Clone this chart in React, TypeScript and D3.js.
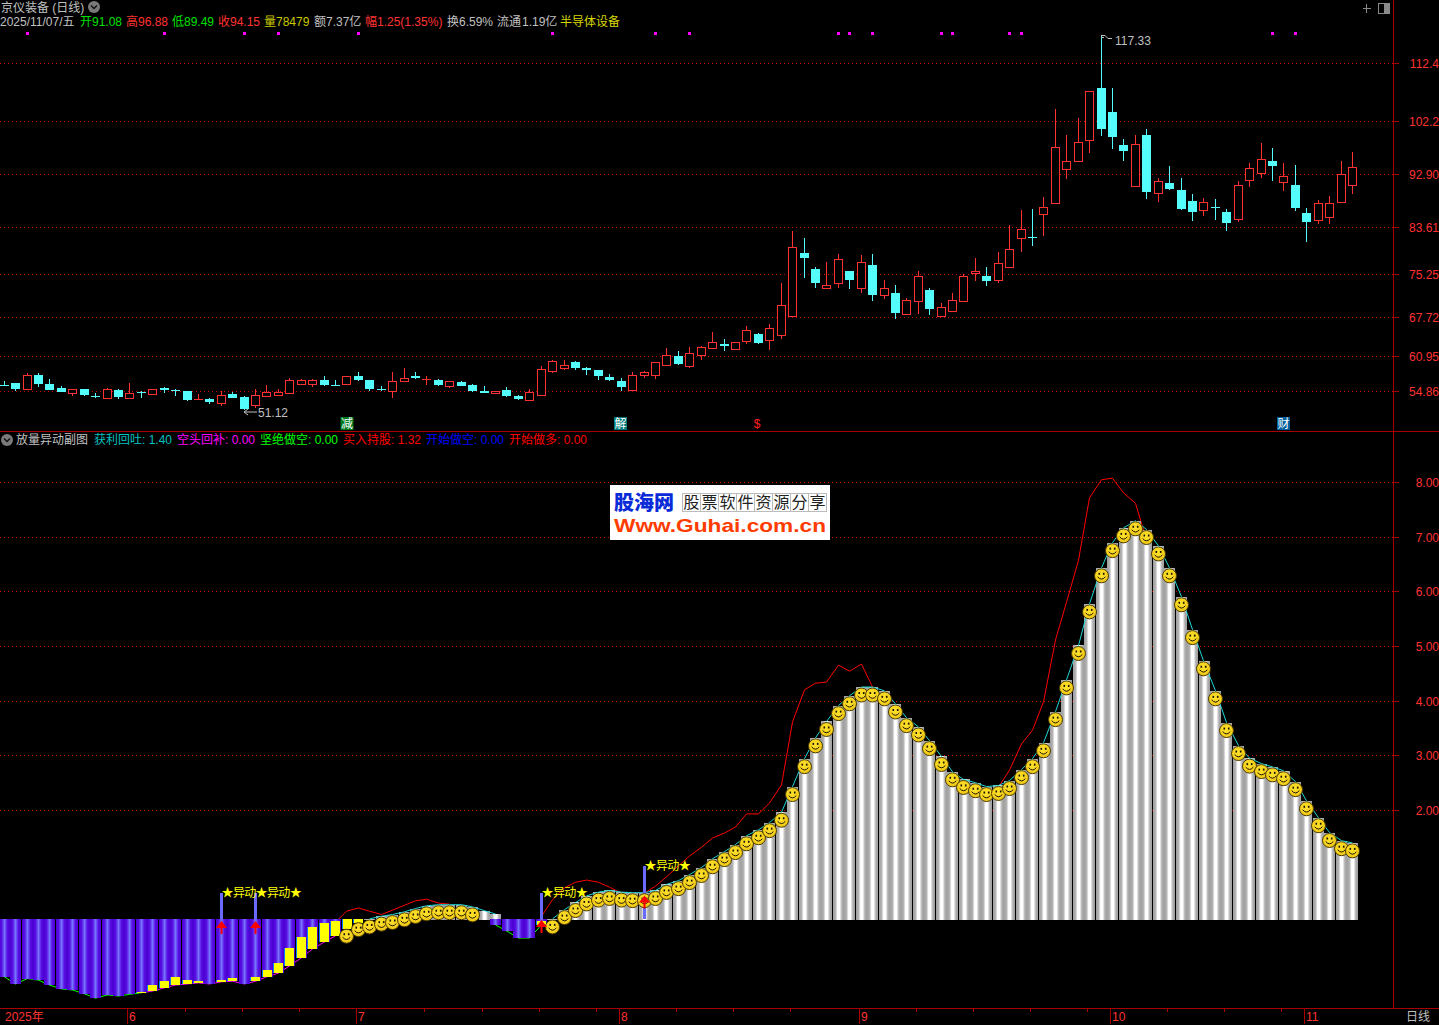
import { useEffect, useRef } from 'react'
import * as d3 from 'd3'

// --- DATA ---
const opens = [
  55.91, 56.26, 55.26, 57.67, 56.09, 55.38, 54.51, 55.21, 53.98, 53.63,
  55.03, 53.63, 54.68, 54.33, 55.38, 55.09, 54.86, 53.33, 53.45, 52.75,
  54.33, 53.8, 52.4, 53.98, 54.15, 54.51, 56.09, 56.09, 56.79, 56.0,
  56.09, 57.49, 56.79, 55.21, 54.86, 56.62, 57.49, 56.88, 56.79, 55.74,
  56.44, 55.91, 54.86, 54.56, 55.03, 53.98, 53.28, 54.15, 58.37, 58.9,
  59.96, 58.9, 58.55, 57.32, 56.62, 55.03, 57.67, 57.67, 59.43, 61.01,
  59.25, 61.19, 62.42, 63.12, 62.24, 63.65, 64.88, 63.82, 64.7, 68.04,
  79.11, 76.3, 72.96, 73.84, 75.95, 72.96, 77.0, 71.73, 72.08, 68.39,
  70.67, 72.61, 68.04, 68.92, 70.67, 75.6, 75.07, 74.36, 76.65, 81.74,
  81.92, 85.96, 87.89, 93.87, 95.27, 98.96, 108.1, 103.88, 98.08, 90.88,
  99.84, 89.65, 91.41, 90.18, 88.24, 86.66, 87.19, 86.31, 85.08, 91.93,
  93.16, 95.27, 91.58, 91.06, 86.14, 84.91, 85.43, 88.07, 91.08,
]
const highs = [
  56.62, 56.26, 57.97, 58.02, 56.97, 55.74, 55.21, 55.21, 54.51, 55.38,
  55.21, 56.26, 54.86, 55.21, 55.56, 55.21, 54.86, 54.33, 53.63, 54.86,
  54.68, 53.98, 55.21, 55.91, 55.21, 57.14, 56.97, 56.97, 57.49, 56.79,
  57.49, 58.2, 56.79, 55.74, 58.2, 58.9, 58.2, 57.49, 56.97, 56.62,
  56.62, 56.09, 55.74, 54.86, 55.56, 54.15, 55.21, 59.25, 60.31, 60.31,
  60.13, 59.08, 58.55, 57.85, 57.14, 58.2, 58.37, 59.96, 62.42, 61.89,
  62.59, 62.77, 65.23, 64.0, 63.47, 66.28, 65.05, 66.63, 73.84, 82.97,
  81.74, 76.65, 77.53, 78.93, 75.95, 78.76, 78.93, 74.36, 73.49, 71.2,
  75.95, 72.96, 70.32, 72.08, 75.42, 78.23, 76.65, 79.28, 84.03, 86.66,
  86.84, 88.95, 104.41, 99.84, 102.82, 107.57, 117.33, 108.1, 99.14, 99.84,
  100.89, 92.29, 94.39, 92.29, 89.47, 88.77, 88.6, 86.84, 91.76, 94.92,
  98.43, 97.56, 94.92, 94.57, 87.01, 88.42, 89.12, 95.27, 96.88,
]
const lows = [
  55.74, 54.9, 55.21, 55.56, 55.03, 54.68, 54.03, 53.98, 53.63, 53.45,
  53.45, 53.63, 53.63, 54.15, 54.51, 53.98, 53.1, 53.28, 52.57, 52.22,
  53.63, 51.5, 51.87, 53.8, 54.15, 54.51, 56.09, 55.56, 55.74, 55.74,
  56.09, 56.62, 54.86, 54.86, 53.63, 56.44, 56.97, 55.91, 55.74, 55.38,
  55.74, 54.68, 54.56, 54.33, 53.8, 53.28, 53.28, 54.15, 58.02, 58.55,
  58.55, 57.67, 56.79, 56.62, 54.86, 55.03, 57.14, 56.97, 59.43, 59.43,
  58.9, 60.31, 62.42, 61.89, 62.24, 63.12, 63.12, 62.07, 64.0, 68.04,
  74.72, 72.96, 72.78, 72.96, 72.78, 72.08, 70.67, 71.03, 67.51, 68.21,
  68.39, 68.21, 68.04, 68.74, 70.67, 74.19, 73.31, 73.84, 76.65, 79.28,
  80.34, 82.09, 87.89, 92.11, 95.1, 96.68, 99.66, 97.38, 95.27, 90.88,
  88.6, 88.07, 90.18, 86.66, 84.73, 85.61, 84.91, 82.97, 84.56, 90.71,
  92.29, 91.76, 89.99, 86.49, 81.04, 84.2, 84.2, 87.89, 89.49,
]
const closes = [
  55.74, 55.21, 57.62, 56.09, 55.03, 54.68, 55.21, 54.15, 53.8, 55.21,
  53.8, 54.51, 54.51, 55.21, 55.03, 54.98, 53.28, 53.45, 52.92, 54.15,
  53.63, 51.69, 54.15, 54.68, 54.68, 56.79, 56.79, 56.79, 55.91, 55.91,
  57.49, 56.79, 55.21, 55.03, 56.62, 57.14, 57.14, 56.97, 55.91, 56.62,
  55.74, 54.86, 54.56, 54.86, 53.98, 53.45, 54.68, 58.73, 60.13, 59.43,
  58.9, 58.55, 57.49, 56.79, 55.56, 57.67, 58.2, 59.96, 61.19, 59.6,
  61.54, 62.59, 63.47, 62.77, 63.47, 65.58, 63.3, 65.93, 69.97, 80.16,
  78.23, 73.84, 73.49, 78.05, 74.36, 77.53, 71.73, 72.96, 68.56, 70.85,
  75.07, 69.27, 69.62, 70.85, 75.07, 75.95, 74.19, 77.35, 79.81, 83.32,
  81.74, 87.19, 97.73, 95.27, 98.61, 107.57, 100.89, 99.49, 97.03, 98.26,
  89.83, 91.76, 90.35, 86.84, 86.31, 88.07, 87.01, 84.38, 91.06, 94.04,
  95.62, 94.39, 92.64, 87.01, 84.56, 87.89, 87.89, 92.99, 94.15,
]
const priceTicks = ['112.4', '102.2', '92.90', '83.61', '75.25', '67.72', '60.95', '54.86']
const lowLabel = '51.12'
const highLabel = '117.33'
const signalDots = [2, 14, 21, 24, 31, 48, 57, 60, 73, 74, 76, 82, 83, 88, 89, 111, 113]

const indicatorTicks = ['8.00', '7.00', '6.00', '5.00', '4.00', '3.00', '2.00']
// white sticks, null where there is none
const longHeight: (number | null)[] = [
  ...Array(30).fill(null),
  -0.15, -0.03, 0.02, 0.07, 0.1, 0.15, 0.21, 0.26, 0.28, 0.28, 0.28, 0.24, 0.17, 0.11,
  null, null, null, null,
  0.02, 0.19, 0.32, 0.44, 0.51, 0.54, 0.51, 0.5, 0.5, 0.54, 0.65, 0.72,
  0.83, 0.96, 1.12, 1.25, 1.38, 1.54, 1.65, 1.78, 1.97, 2.44,
  2.95, 3.33, 3.63, 3.92, 4.1, 4.26, 4.26, 4.19, 3.95, 3.7,
  3.53, 3.28, 2.99, 2.71, 2.57, 2.51, 2.44, 2.46, 2.55, 2.75,
  2.95, 3.24, 3.81, 4.39, 5.02, 5.78, 6.44, 6.9, 7.17, 7.3,
  7.14, 6.84, 6.44, 5.91, 5.31, 4.74, 4.19, 3.61, 3.19, 2.96,
  2.86, 2.8, 2.73, 2.53, 2.18, 1.87, 1.6, 1.45, 1.41,
]
// no smile on these two sticks
const noFace = [42, 43]
// purple sticks below the zero line
const shortDepth: (number | null)[] = [
  -1.04, -1.17, -1.07, -1.1, -1.19, -1.26, -1.28, -1.35, -1.43, -1.37,
  -1.39, -1.36, -1.33, -1.3, -1.24, -1.19, -1.17, -1.15, -1.17, -1.13,
  -1.12, -1.17, -1.12, -1.04, -0.97, -0.84, -0.69, -0.53, -0.4, -0.29,
  ...Array(13).fill(null),
  -0.09, -0.2, -0.33, -0.33, -0.09,
  ...Array(71).fill(null),
]
const yellowIndex = [12, 13, 14, 15, 16, 17, 19, 20, 22, 23, 24, 25, 26, 27, 28, 29, 30, 31, 47]
const yellowTop = [-1.32, -1.19, -1.12, -1.04, -1.1, -1.12, -1.1, -1.06, -1.04, -0.91, -0.79, -0.51, -0.31, -0.13, -0.05, -0.02, 0.02, 0.02, -0.01]
const yellowBottom = [-1.33, -1.3, -1.24, -1.19, -1.17, -1.15, -1.13, -1.12, -1.12, -1.04, -0.97, -0.84, -0.69, -0.53, -0.4, -0.29, -0.16, -0.05, -0.09]
// red line, only where it is seen above the sticks
const redLine: (number | null)[] = [
  ...Array(29).fill(null),
  -0.04, 0.16, 0.22, 0.16, 0.1, 0.18, 0.27, 0.35, 0.38, 0.31, 0.29,
  ...Array(7).fill(null),
  0.07, 0.37, 0.59, 0.69, 0.73, 0.69, 0.6, 0.49, 0.49,
  0.49, 0.62, 0.79, 0.99, 1.17, 1.33, 1.5, 1.59, 1.7, 1.94, 1.94, 2.14, 2.47, 3.62, 4.21, 4.33, 4.35, 4.66, 4.55, 4.68, 4.26,
  ...Array(9).fill(null),
  2.2, 2.43, 2.74, 3.22, 3.47, 3.99, 5.12, 5.81, 6.58, 7.72, 8.05, 8.08, 7.81, 7.62, 6.95,
  ...Array(18).fill(null),
]
// idx, tip of the red arrow
const signalIndex = [19, 22, 47, 56]
const signalTop = [0.5, 0.5, 0.5, 0.98]
const arrowTip = [-0.02, -0.02, 0, 0.45]
const signalTexts = ['★异动', '★异动★', '★异动★', '★异动★']

const monthIndex = [11, 31, 54, 75, 97, 114]
const monthLabels = ['6', '7', '8', '9', '10', '11']
const minorTicks = [16, 21, 26, 37, 42, 47, 52, 59, 64, 69, 80, 85, 90, 95, 102, 107, 112]

// header row
const quoteTexts = ['2025/11/07/五', '开', '91.08', '高', '96.88', '低', '89.49', '收', '94.15', '量', '78479', '额', '7.37亿', '幅', '1.25(1.35%)', '换', '6.59%', '流通', '1.19亿', '半导体设备']
const quoteColors = ['#c0c0c0', '#00e000', '#00e000', '#ff3232', '#ff3232', '#00e000', '#00e000', '#ff3232', '#ff3232', '#c8c800', '#c8c800', '#c0c0c0', '#c0c0c0', '#ff3232', '#ff3232', '#c0c0c0', '#c0c0c0', '#c0c0c0', '#c0c0c0', '#d8d800']
const quoteX = [0, 80, 92, 126, 138, 172, 184, 218, 230, 264, 276, 314, 326, 365, 377, 447, 459, 497, 522, 560]

const legendTexts = ['获利回吐: 1.40', '空头回补: 0.00', '坚绝做空: 0.00', '买入持股: 1.32', '开始做空: 0.00', '开始做多: 0.00']
const legendColors = ['#00c0c0', '#ff00ff', '#00ff00', '#ff0000', '#0000ff', '#ff0000']
const legendX = [94, 177, 260, 343, 426, 509]

const FONT = '"Liberation Sans", "Noto Sans CJK SC", sans-serif'
const CJK = '"Noto Sans CJK SC", sans-serif'
const WIDTH = 1439
const HEIGHT = 1025
const AXIS_X = 1393

const GRID = '#c80000'
const AXIS = '#a80000'
const RED = '#ff3232'
const CYAN = '#54fcfc'
const GREY = '#c0c0c0'

export default function App() {
  const svgRef = useRef<SVGSVGElement | null>(null)

  useEffect(() => {
    if (!svgRef.current) return
    const svg = d3.select<SVGSVGElement, unknown>(svgRef.current)
    svg.selectAll('*').remove()

    // --- SCALES ---
    const n = opens.length
    const xRaw = d3.scaleLinear().domain([0, n - 1]).range([3.7, 3.7 + 11.426 * (n - 1)])
    const x = (i: number) => Math.round(xRaw(i))
    const yPrice = d3.scaleLinear().domain([54.86, 112.4]).range([391, 63.5])
    const yInd = d3.scaleLinear().domain([0, 8]).range([920, 482.5])
    // sticks are snapped to whole pixels, the 1px gaps come from this rounding
    const stickLeft = (i: number) => Math.floor((80 / 7) * i + (i < 45 ? 0.2 : 0.05)) - 1

    // --- GRADIENTS ---
    const defs = svg.append('defs')
    const addGradient = (id: string, stops: [number, string][]) => {
      const g = defs.append('linearGradient').attr('id', id)
      stops.forEach(([o, c]) => g.append('stop').attr('offset', o).attr('stop-color', c))
    }
    addGradient('whiteStick', [[0, '#a0a0a0'], [0.22, '#b0b0b0'], [0.42, '#ffffff'], [0.6, '#ffffff'], [0.82, '#acacac'], [1, '#a0a0a0']])
    addGradient('purpleStick', [[0, '#4a00d0'], [0.25, '#5a10e4'], [0.5, '#7474ff'], [0.75, '#5a10e4'], [1, '#4a00d0']])
    const face = defs.append('radialGradient').attr('id', 'face').attr('cx', 0.45).attr('cy', 0.4).attr('r', 0.65)
    face.append('stop').attr('offset', 0).attr('stop-color', '#ffe42c')
    face.append('stop').attr('offset', 1).attr('stop-color', '#eec414')

    svg.append('rect').attr('width', WIDTH).attr('height', HEIGHT).attr('fill', '#000')

    const label = (
      g: d3.Selection<any, unknown, null, undefined>,
      tx: number,
      ty: number,
      text: string,
      color: string,
      anchor = 'start',
      size = 12,
    ) =>
      g
        .append('text')
        .attr('x', tx)
        .attr('y', ty)
        .attr('fill', color)
        .attr('text-anchor', anchor)
        .style('font-family', FONT)
        .style('font-size', `${size}px`)
        .text(text)

    // --- FRAME ---
    const frame = svg.append('g').attr('shape-rendering', 'crispEdges').attr('stroke', AXIS)
    frame.append('line').attr('x1', AXIS_X + 0.5).attr('x2', AXIS_X + 0.5).attr('y1', 0).attr('y2', 1008)
    frame.append('line').attr('x1', 0).attr('x2', WIDTH).attr('y1', 431.5).attr('y2', 431.5)
    frame.append('line').attr('x1', 0).attr('x2', WIDTH).attr('y1', 1008.5).attr('y2', 1008.5)

    // --- GRID + RIGHT AXES ---
    const grid = svg.append('g').attr('shape-rendering', 'crispEdges')
    const drawTick = (yPos: number, text: string) => {
      const yy = Math.floor(yPos) + 0.5
      grid
        .append('line')
        .attr('x1', 0)
        .attr('x2', AXIS_X)
        .attr('y1', yy)
        .attr('y2', yy)
        .attr('stroke', GRID)
        .attr('stroke-dasharray', '1 3')
      grid
        .append('line')
        .attr('x1', AXIS_X)
        .attr('x2', AXIS_X + 6)
        .attr('y1', yy)
        .attr('y2', yy)
        .attr('stroke', AXIS)
      label(svg as any, 1439, yy + 4, text, RED, 'end')
    }
    priceTicks.forEach((t) => drawTick(yPrice(+t), t))
    indicatorTicks.forEach((t) => drawTick(yInd(+t), t))

    // --- CANDLES ---
    const candles = svg.append('g').attr('shape-rendering', 'crispEdges')
    opens.forEach((open, i) => {
      const close = closes[i]
      const up = close >= open
      const color = up ? RED : CYAN
      const c = x(i)
      const top = Math.round(yPrice(Math.max(open, close)))
      const bottom = Math.round(yPrice(Math.min(open, close)))
      const yHigh = Math.round(yPrice(highs[i]))
      const yLow = Math.round(yPrice(lows[i]))
      candles.append('rect').attr('x', c).attr('y', yHigh).attr('width', 1).attr('height', Math.max(1, yLow - yHigh)).attr('fill', color)
      if (up && bottom - top >= 2) {
        candles
          .append('rect')
          .attr('x', c - 3.5)
          .attr('y', top + 0.5)
          .attr('width', 8)
          .attr('height', bottom - top)
          .attr('fill', '#000')
          .attr('stroke', color)
      } else {
        candles
          .append('rect')
          .attr('x', c - 4)
          .attr('y', top)
          .attr('width', 9)
          .attr('height', Math.max(1, bottom - top))
          .attr('fill', color)
      }
    })

    // --- EXTREME LABELS ---
    const extremes = svg.append('g')
    const lowX = x(21)
    extremes
      .append('path')
      .attr('d', `M${lowX} 412 l4 -3 M${lowX} 412 l4 3 M${lowX} 412 h13`)
      .attr('fill', 'none')
      .attr('stroke', GREY)
    label(extremes, lowX + 14, 417, lowLabel, GREY)
    const highX = x(96)
    extremes
      .append('path')
      .attr('d', `M${highX} 35.5 h4 l3 3 h4 M${highX} 37.5 h3`)
      .attr('fill', 'none')
      .attr('stroke', GREY)
    label(extremes, highX + 14, 45, highLabel, GREY)

    // --- TOP SIGNAL DOTS ---
    svg
      .append('g')
      .attr('shape-rendering', 'crispEdges')
      .selectAll('rect')
      .data(signalDots)
      .enter()
      .append('rect')
      .attr('x', (d) => x(d) - 1)
      .attr('y', 32)
      .attr('width', 3)
      .attr('height', 3)
      .attr('fill', '#ff00ff')

    // --- MARKER BOXES ---
    const boxes: [number, string, string][] = [
      [347, '减', '#007a1e'],
      [620.5, '解', '#007878'],
      [1283.5, '财', '#005f9a'],
    ]
    boxes.forEach(([bx, text, color]) => {
      svg.append('rect').attr('x', bx - 6.5).attr('y', 417).attr('width', 13).attr('height', 13).attr('fill', color)
      svg
        .append('text')
        .attr('x', bx)
        .attr('y', 428)
        .attr('fill', '#fff')
        .attr('text-anchor', 'middle')
        .style('font-family', CJK)
        .style('font-size', '12px')
        .text(text)
    })
    label(svg as any, 757, 428, '$', '#ff2020', 'middle')

    // --- HEADER ---
    const header = svg.append('g')
    label(header, 1, 12, '京仪装备 (日线)', GREY)
    quoteTexts.forEach((t, i) => label(header, quoteX[i], 26, t, quoteColors[i]))
    const chevron = (cx: number, cy: number) => {
      header.append('circle').attr('cx', cx).attr('cy', cy).attr('r', 6).attr('fill', '#7a7a7a')
      header
        .append('path')
        .attr('d', `M${cx - 3} ${cy - 1.5} L${cx} ${cy + 1.5} L${cx + 3} ${cy - 1.5}`)
        .attr('fill', 'none')
        .attr('stroke', '#111')
        .attr('stroke-width', 1.5)
    }
    chevron(94, 7)
    chevron(7, 440)
    label(header, 16, 444, '放量异动副图', GREY)
    legendTexts.forEach((t, i) => label(header, legendX[i], 444, t, legendColors[i]))

    // top right buttons
    const buttons = svg.append('g').attr('shape-rendering', 'crispEdges')
    buttons.append('path').attr('d', 'M1362.5 8.5 h8 M1366.5 3.5 v9').attr('stroke', '#8a8a8a').attr('fill', 'none')
    buttons.append('rect').attr('x', 1378.5).attr('y', 3.5).attr('width', 11).attr('height', 10).attr('fill', 'none').attr('stroke', '#8a8a8a')
    buttons.append('rect').attr('x', 1384).attr('y', 4).attr('width', 5).attr('height', 9).attr('fill', '#8a8a8a')

    // --- RED LINE (behind sticks) ---
    const curve = d3
      .line<number | null>()
      .defined((d) => d !== null)
      .x((_, i) => x(i) + 0.5)
      .y((d) => yInd(d as number))
    svg.append('path').attr('d', curve(redLine)).attr('fill', 'none').attr('stroke', '#ff0000')

    // --- DEPTH LINE UNDER PURPLE ---
    const depthLine = (from: number, to: number, color: string) =>
      svg
        .append('path')
        .attr('d', curve(shortDepth.map((d, i) => (i >= from && i <= to ? d : null))))
        .attr('fill', 'none')
        .attr('stroke', color)
    depthLine(0, 12, '#00ff00')
    depthLine(12, 29, '#ff00ff')
    depthLine(43, 47, '#00ff00')

    // --- STICKS ---
    const sticks = svg.append('g').attr('shape-rendering', 'crispEdges')
    longHeight.forEach((v, i) => {
      if (v === null || v <= 0) return
      const top = Math.round(yInd(v))
      sticks
        .append('rect')
        .attr('x', stickLeft(i))
        .attr('y', top)
        .attr('width', 11)
        .attr('height', Math.max(1, 920 - top))
        .attr('fill', 'url(#whiteStick)')
    })
    shortDepth.forEach((v, i) => {
      if (v === null) return
      sticks
        .append('rect')
        .attr('x', stickLeft(i))
        .attr('y', 919)
        .attr('width', 11)
        .attr('height', Math.round(yInd(v)) - 919)
        .attr('fill', 'url(#purpleStick)')
    })
    yellowIndex.forEach((idx, k) => {
      const top = Math.round(yInd(yellowTop[k]))
      const h = Math.max(1, Math.round(yInd(yellowBottom[k])) - top)
      const left = stickLeft(idx)
      sticks.append('rect').attr('x', left).attr('y', top).attr('width', 10).attr('height', h).attr('fill', '#0080ff')
      sticks.append('rect').attr('x', left + 1).attr('y', top).attr('width', 9).attr('height', h).attr('fill', '#ffff00')
    })

    // --- CYAN LINE ---
    svg
      .append('path')
      .attr('d', curve(longHeight.map((d) => (d !== null && d >= 0 ? d : null))))
      .attr('fill', 'none')
      .attr('stroke', '#20d8d8')

    // --- SIGNAL POSTS ---
    signalIndex.forEach((idx, k) => {
      svg
        .append('rect')
        .attr('x', x(idx) - 1)
        .attr('y', yInd(signalTop[k]))
        .attr('width', 3)
        .attr('height', 919 - yInd(signalTop[k]))
        .attr('fill', '#6a6aff')
        .attr('shape-rendering', 'crispEdges')
    })

    // --- SMILEYS ---
    const faces = svg.append('g')
    longHeight.forEach((v, i) => {
      if (v === null || noFace.includes(i)) return
      const g = faces.append('g').attr('transform', `translate(${x(i) + 0.5},${yInd(v) + 8})`)
      g.append('circle').attr('r', 7).attr('fill', 'url(#face)').attr('stroke', '#4a3c00').attr('stroke-width', 1)
      g.append('rect').attr('x', -3).attr('y', -3).attr('width', 1.6).attr('height', 2).attr('fill', '#1a1200')
      g.append('rect').attr('x', 1.4).attr('y', -3).attr('width', 1.6).attr('height', 2).attr('fill', '#1a1200')
      g.append('path').attr('d', 'M-3.8 1 Q0 5.6 3.8 1').attr('fill', 'none').attr('stroke', '#1a1200').attr('stroke-width', 1)
    })

    // --- ARROWS + LABELS ---
    signalIndex.forEach((idx, k) => {
      const cx = x(idx) + 0.5
      const tip = yInd(arrowTip[k])
      svg
        .append('path')
        .attr('d', `M${cx} ${tip} L${cx + 5.5} ${tip + 7} L${cx + 1} ${tip + 7} V${tip + 13} H${cx - 1} V${tip + 7} L${cx - 5.5} ${tip + 7} Z`)
        .attr('fill', '#ff0000')
      svg
        .append('text')
        .attr('x', cx)
        .attr('y', yInd(signalTop[k]) + 4)
        .attr('fill', '#ffff00')
        .attr('letter-spacing', '-0.6')
        .style('font-family', CJK)
        .style('font-size', '12px')
        .text(signalTexts[k])
    })

    // --- WATERMARK ---
    const mark = svg.append('g')
    mark.append('rect').attr('x', 610).attr('y', 485).attr('width', 220).attr('height', 55).attr('fill', '#fff')
    mark
      .append('text')
      .attr('x', 614)
      .attr('y', 510)
      .attr('fill', '#0a2cd8')
      .attr('font-weight', 900)
      .style('font-family', CJK)
      .style('font-size', '20px')
      .text('股海网')
    '股票软件资源分享'.split('').forEach((ch, i) => {
      mark.append('rect').attr('x', 682.5 + i * 18).attr('y', 493.5).attr('width', 18).attr('height', 18).attr('fill', 'none').attr('stroke', '#bbb').attr('shape-rendering', 'crispEdges')
      mark
        .append('text')
        .attr('x', 691.5 + i * 18)
        .attr('y', 508)
        .attr('fill', '#222')
        .attr('text-anchor', 'middle')
        .style('font-family', CJK)
        .style('font-size', '16px')
        .text(ch)
    })
    mark
      .append('text')
      .attr('x', 614)
      .attr('y', 532)
      .attr('fill', '#ff3c00')
      .attr('font-weight', 700)
      .attr('textLength', 212)
      .attr('lengthAdjust', 'spacingAndGlyphs')
      .style('font-family', '"Liberation Sans", sans-serif')
      .style('font-size', '19px')
      .text('Www.Guhai.com.cn')

    // --- TIME AXIS ---
    const time = svg.append('g').attr('shape-rendering', 'crispEdges').attr('stroke', AXIS)
    monthIndex.forEach((m) => {
      time.append('line').attr('x1', x(m) - 1.5).attr('x2', x(m) - 1.5).attr('y1', 1008).attr('y2', 1024)
    })
    minorTicks.forEach((m) => {
      time.append('line').attr('x1', x(m) - 1.5).attr('x2', x(m) - 1.5).attr('y1', 1008).attr('y2', 1012)
    })
    label(svg as any, 5, 1021, '2025年', RED)
    monthIndex.forEach((m, i) => label(svg as any, x(m), 1021, monthLabels[i], RED))
    label(svg as any, 1406, 1021, '日线', GREY)
  }, [])

  return (
    <svg
      ref={svgRef}
      width={WIDTH}
      height={HEIGHT}
      style={{ position: 'fixed', left: 0, top: 0, display: 'block', background: '#000' }}
    />
  )
}
